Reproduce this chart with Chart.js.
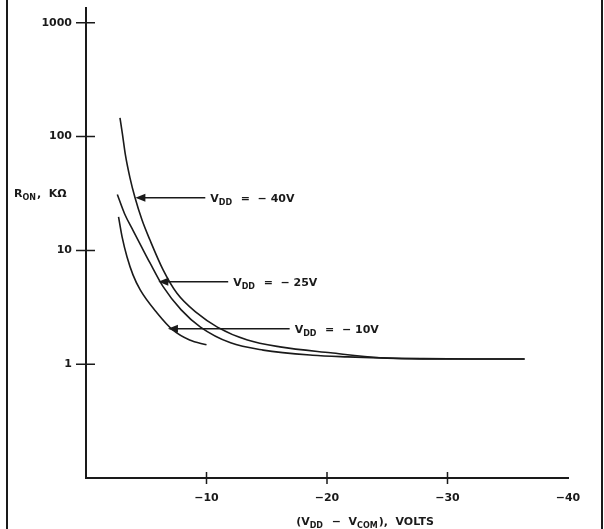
<!DOCTYPE html>
<html>
<head>
<meta charset="utf-8">
<script src="https://cdn.jsdelivr.net/npm/chart.js@4.4.1/dist/chart.umd.min.js"></script>
<style>
  html, body { margin: 0; padding: 0; background: #fff; }
  #wrap { width: 604px; height: 529px; position: relative; }
</style>
</head>
<body>
<div id="wrap"><canvas id="ronChart"></canvas></div>
<script>
// Courbes : tension (V) et résistance (kΩ)
const volts40 = [-2.82, -3.03, -3.27, -3.65, -4.07, -4.65, -5.3, -6.4, -7.55, -9.2, -10.9, -13.4, -16.1, -20.3, -24.4, -28, -32, -36.4];
const ron40   = [146, 104, 69, 43.4, 29, 18.5, 12.4, 6.75, 4.2, 2.82, 2.12, 1.63, 1.42, 1.26, 1.14, 1.12, 1.11, 1.11];

const volts25 = [-2.6, -3.2, -3.9, -4.6, -5.3, -6.4, -7.9, -9.5, -12, -14.7, -18.8, -21.7, -25, -30, -36.4];
const ron25   = [31, 21, 15, 10.8, 7.8, 4.8, 3.0, 2.12, 1.54, 1.33, 1.2, 1.16, 1.13, 1.11, 1.11];

const volts10 = [-2.7, -3.0, -3.4, -3.9, -4.5, -5.9, -7.2, -8.6, -10.0];
const ron10   = [19.7, 13.1, 8.8, 6.1, 4.5, 2.82, 2.0, 1.63, 1.48];

// Graduations
const xTicks = [-10, -20, -30, -40];
const yTicks = [1, 10, 100, 1000];
const yTickLabels = ['1', '10', '100', '1000'];

// Étiquettes avec flèche : valeur de V_DD, pointe de la flèche, départ de la flèche
const arrowLabels = ['\u2212 40V', '\u2212 25V', '\u2212 10V'];
const arrowTipV   = [-4.1, -6.0, -6.8];
const arrowTipR   = [29, 5.3, 2.05];
const arrowTailV  = [-9.9, -11.8, -16.9];

const INK = '#1a1a1a';
const FONT = 'bold 11px "DejaVu Sans"';
const SUB_FONT = 'bold 8px "DejaVu Sans"';

function toPoints(xs, ys) {
    return xs.map((x, i) => ({ x: x, y: ys[i] }));
}

function curve(label, xs, ys) {
    return {
        label: label,
        data: toPoints(xs, ys),
        showLine: true,
        borderColor: INK,
        borderWidth: 1.6,
        pointRadius: 0,
        cubicInterpolationMode: 'monotone',
        fill: false
    };
}

// Texte avec indices : parts = [[texte, indice?], ...]
function drawRich(ctx, x, y, parts) {
    ctx.textBaseline = 'alphabetic';
    ctx.textAlign = 'left';
    parts.forEach(p => {
        ctx.font = p[1] ? SUB_FONT : FONT;
        ctx.fillText(p[0], x, p[1] ? y + 3 : y);
        x += ctx.measureText(p[0]).width + (p[1] ? 1 : 0);
    });
}

function measureRich(ctx, parts) {
    let w = 0;
    parts.forEach(p => {
        ctx.font = p[1] ? SUB_FONT : FONT;
        w += ctx.measureText(p[0]).width + (p[1] ? 1 : 0);
    });
    return w;
}

// pas de marge automatique autour des axes : la zone du graphique est fixée par layout.padding
function noScalePadding(scale) {
    scale.paddingTop = 0;
    scale.paddingBottom = 0;
    scale.paddingLeft = 0;
    scale.paddingRight = 0;
}

const extras = {
    id: 'extras',
    afterDraw(chart) {
        const ctx = chart.ctx;
        const xs = chart.scales.x;
        const ys = chart.scales.y;
        const area = chart.chartArea;
        ctx.save();
        ctx.strokeStyle = INK;
        ctx.fillStyle = INK;

        // cadre vertical gauche et droit
        ctx.lineWidth = 2;
        ctx.beginPath();
        ctx.moveTo(7, 0); ctx.lineTo(7, chart.height);
        ctx.moveTo(602, 0); ctx.lineTo(602, chart.height);
        ctx.stroke();

        // graduations qui traversent les axes
        ctx.lineWidth = 1.5;
        ctx.beginPath();
        yTicks.forEach(v => {
            const py = ys.getPixelForValue(v);
            ctx.moveTo(area.left - 10, py); ctx.lineTo(area.left + 9, py);
        });
        xTicks.slice(0, 3).forEach(v => {
            const px = xs.getPixelForValue(v);
            ctx.moveTo(px, area.bottom - 6); ctx.lineTo(px, area.bottom + 6);
        });
        ctx.stroke();

        // flèches + étiquettes V_DD
        arrowLabels.forEach((lab, i) => {
            const tx = xs.getPixelForValue(arrowTipV[i]);
            const ty = ys.getPixelForValue(arrowTipR[i]);
            const ex = xs.getPixelForValue(arrowTailV[i]);
            ctx.lineWidth = 1.5;
            ctx.beginPath();
            ctx.moveTo(ex, ty); ctx.lineTo(tx + 6, ty);
            ctx.stroke();
            ctx.beginPath();
            ctx.moveTo(tx, ty);
            ctx.lineTo(tx + 10, ty - 4);
            ctx.lineTo(tx + 10, ty + 4);
            ctx.closePath();
            ctx.fill();
            drawRich(ctx, ex + 5, ty + 4, [['V', false], ['DD', true], ['  =  ' + lab, false]]);
        });

        // titre de l'axe Y
        drawRich(ctx, 14, 197, [['R', false], ['ON', true], [',  K\u03A9', false]]);

        // titre de l'axe X
        const xt = [['(V', false], ['DD', true], ['  \u2212  V', false], ['COM', true], ['),  VOLTS', false]];
        const w = measureRich(ctx, xt);
        drawRich(ctx, 365 - w / 2, 525, xt);

        ctx.restore();
    }
};

document.addEventListener('DOMContentLoaded', function() {
    const ctx = document.getElementById('ronChart').getContext('2d');
    new Chart(ctx, {
        type: 'scatter',
        data: {
            datasets: [
                curve('VDD = -40V', volts40, ron40),
                curve('VDD = -25V', volts25, ron25),
                curve('VDD = -10V', volts10, ron10)
            ]
        },
        options: {
            responsive: true,
            maintainAspectRatio: false,
            animation: false,
            layout: { padding: { left: 0, top: 8, right: 36, bottom: 0 } },
            plugins: {
                legend: { display: false },
                tooltip: { enabled: false }
            },
            scales: {
                x: {
                    type: 'linear',
                    min: -40,
                    max: 0,
                    reverse: true,
                    afterFit: function(scale) { scale.height = 51; noScalePadding(scale); },
                    afterBuildTicks: function(scale) {
                        scale.ticks = xTicks.map(v => ({ value: v }));
                    },
                    grid: { display: false, drawTicks: false },
                    border: { display: true, color: INK, width: 2 },
                    ticks: {
                        color: INK,
                        font: { family: 'DejaVu Sans', size: 11, weight: 'bold' },
                        padding: 14,
                        maxRotation: 0,
                        autoSkip: false,
                        callback: v => '\u2212' + Math.abs(v)
                    }
                },
                y: {
                    type: 'logarithmic',
                    min: 0.1,
                    max: 1350,
                    afterFit: function(scale) { scale.width = 86; noScalePadding(scale); },
                    afterBuildTicks: function(scale) {
                        scale.ticks = yTicks.map(v => ({ value: v }));
                    },
                    grid: { display: false, drawTicks: false },
                    border: { display: true, color: INK, width: 2 },
                    ticks: {
                        color: INK,
                        font: { family: 'DejaVu Sans', size: 11, weight: 'bold' },
                        padding: 14,
                        callback: v => yTickLabels[yTicks.indexOf(v)]
                    }
                }
            }
        },
        plugins: [extras]
    });
});
</script>
</body>
</html>
